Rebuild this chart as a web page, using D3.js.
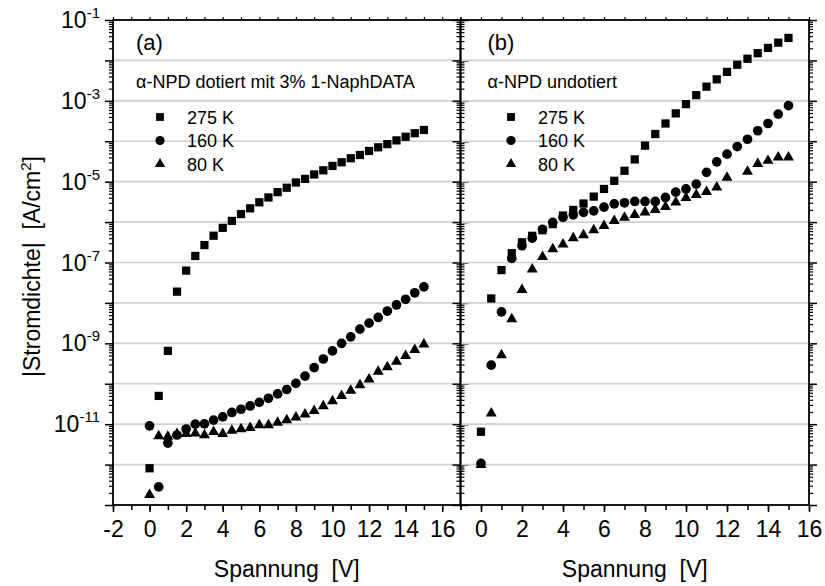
<!DOCTYPE html>
<html>
<head>
<meta charset="utf-8">
<script src="https://cdn.jsdelivr.net/npm/d3@7"></script>
<style>
  html, body { margin: 0; padding: 0; background: #fff; }
  svg { display: block; font-family: "Liberation Sans", Arial, sans-serif; }
</style>
</head>
<body>
<svg id="chart" width="825" height="586"></svg>
<script>
// Current density |J| (A/cm^2) versus voltage (V)
const voltage = [0, 0.5, 1, 1.5, 2, 2.5, 3, 3.5, 4, 4.5, 5, 5.5, 6, 6.5, 7, 7.5,
  8, 8.5, 9, 9.5, 10, 10.5, 11, 11.5, 12, 12.5, 13, 13.5, 14, 14.5, 15];

// (a) alpha-NPD doped with 3% 1-NaphDATA
const dopedJ275 = [8.1e-13, 5.0e-11, 6.5e-10, 1.9e-8, 6.3e-8, 1.45e-7, 2.7e-7, 4.6e-7,
  7.2e-7, 1.07e-6, 1.58e-6, 2.19e-6, 3.09e-6, 4.07e-6, 5.5e-6, 7.08e-6, 9.55e-6,
  1.17e-5, 1.51e-5, 1.91e-5, 2.45e-5, 3.02e-5, 3.8e-5, 4.57e-5, 5.75e-5, 7.08e-5,
  8.5e-5, 1.05e-4, 1.29e-4, 1.58e-4, 1.9e-4];
const dopedJ160 = [9.1e-12, 2.8e-13, 3.4e-12, 5.4e-12, 7.6e-12, 1.0e-11, 1.02e-11,
  1.26e-11, 1.51e-11, 1.95e-11, 2.34e-11, 2.82e-11, 3.47e-11, 4.37e-11, 5.6e-11,
  7.2e-11, 1.02e-10, 1.55e-10, 2.5e-10, 4.1e-10, 6.5e-10, 1.0e-9, 1.45e-9, 2.24e-9,
  3.16e-9, 4.37e-9, 6.3e-9, 8.9e-9, 1.23e-8, 1.78e-8, 2.5e-8];
const dopedJ80 = [1.78e-13, 5.1e-12, 4.9e-12, 5.75e-12, 5.75e-12, 5.9e-12, 5.4e-12,
  6.5e-12, 5.75e-12, 6.9e-12, 7.6e-12, 8.1e-12, 9.5e-12, 9.5e-12, 1.1e-11, 1.26e-11,
  1.48e-11, 1.74e-11, 2.14e-11, 2.82e-11, 3.7e-11, 5.0e-11, 6.8e-11, 9.3e-11,
  1.29e-10, 2.0e-10, 2.57e-10, 3.55e-10, 4.9e-10, 6.9e-10, 9.5e-10];

// (b) undoped alpha-NPD
const undopedJ275 = [6.5e-12, 1.29e-8, 6.5e-8, 1.7e-7, 3.16e-7, 4.57e-7, 6.3e-7, 8.9e-7,
  1.45e-6, 2.0e-6, 2.88e-6, 4.27e-6, 6.6e-6, 1.05e-5, 1.86e-5, 3.55e-5, 7.8e-5,
  1.51e-4, 2.75e-4, 4.9e-4, 8.3e-4, 1.38e-3, 2.24e-3, 3.4e-3, 5.2e-3, 7.8e-3,
  1.1e-2, 1.51e-2, 2.04e-2, 2.75e-2, 3.6e-2];
const undopedJ160 = [1.07e-12, 2.9e-10, 6.0e-9, 1.26e-7, 2.6e-7, 4.0e-7, 6.6e-7, 9.8e-7,
  1.32e-6, 1.51e-6, 1.74e-6, 1.9e-6, 2.34e-6, 2.82e-6, 3.0e-6, 3.24e-6, 3.24e-6,
  3.24e-6, 4.07e-6, 5.5e-6, 6.6e-6, 8.7e-6, 1.7e-5, 3.09e-5, 4.8e-5, 7.4e-5,
  1.12e-4, 1.82e-4, 2.75e-4, 4.7e-4, 7.6e-4];
const voltage80b = [0, 0.5, 1, 1.5, 2, 2.5, 3, 3.5, 4, 4.5, 5, 5.5, 6, 6.5, 7, 7.5,
  8, 8.5, 9, 9.5, 10, 10.5, 11, 11.5, 12, 13, 13.5, 14, 14.5, 15];
const undopedJ80 = [9.8e-13, 1.86e-11, 5.1e-10, 4.0e-9, 2.1e-8, 6.8e-8, 1.38e-7, 2.14e-7,
  2.82e-7, 4.0e-7, 4.8e-7, 6.3e-7, 8.1e-7, 1.07e-6, 1.29e-6, 1.51e-6, 1.74e-6,
  2.0e-6, 2.4e-6, 3.09e-6, 4.0e-6, 4.7e-6, 5.6e-6, 7.2e-6, 1.26e-5, 1.78e-5,
  2.75e-5, 3.3e-5, 4.0e-5, 4.0e-5];

const seriesLabels = ["275 K", "160 K", "80 K"];
const panelTags = ["(a)", "(b)"];
const panelTitles = ["\u03B1-NPD dotiert mit 3% 1-NaphDATA", "\u03B1-NPD undotiert"];
const xTicksA = [-2, 0, 2, 4, 6, 8, 10, 12, 14, 16];
const xTicksB = [0, 2, 4, 6, 8, 10, 12, 14, 16];
const yLabelExponents = [-1, -3, -5, -7, -9, -11];
const xTitle = "Spannung \u00A0[V]";

const svg = d3.select("#chart");
const plotTop = 20, plotBottom = 505;
const fontSize = 23;

const y = d3.scaleLog().domain([1e-13, 1e-1]).range([plotBottom, plotTop]);
const xa = d3.scaleLinear().domain([-2, 17]).range([113, 460.5]);
const xb = d3.scaleLinear().domain([-1, 16]).range([460.5, 809]);

const decades = d3.range(-12, -1).map(e => Math.pow(10, e));
const decadeAll = d3.range(-13, 0).map(e => Math.pow(10, e));
const minorY = [];
d3.range(-13, -1).forEach(e => { for (let m = 2; m <= 9; m++) minorY.push(m * Math.pow(10, e)); });

const shapes = [d3.symbolSquare, d3.symbolCircle, d3.symbolTriangle];
const sizes = [68, 74, 52];

function panel(x, data, idx, xTicks) {
  const [x0, x1] = x.range();
  const g = svg.append("g");

  // decade grid lines
  g.append("g").selectAll("line")
    .data(decades)
    .join("line")
    .attr("x1", x0).attr("x2", x1)
    .attr("y1", d => y(d)).attr("y2", d => y(d))
    .attr("stroke", "#cfcfcf").attr("stroke-width", 1.6);

  // data
  data.forEach((s, i) => {
    g.append("g").selectAll("path")
      .data(s.v.map((v, k) => [s.x[k], v]))
      .join("path")
      .attr("transform", d => `translate(${x(d[0])},${y(d[1])})`)
      .attr("d", d3.symbol(shapes[i], sizes[i]))
      .attr("fill", "#000");
  });

  // bottom axis: major and minor ticks
  const minorX = d3.range(Math.ceil(x.domain()[0]), Math.floor(x.domain()[1]) + 1);
  g.append("g").attr("transform", `translate(0,${plotBottom})`)
    .call(d3.axisBottom(x).tickValues(minorX).tickSize(5).tickFormat(""))
    .call(a => a.select(".domain").remove())
    .call(a => a.selectAll("line").attr("stroke-width", 1.5));
  const bx = g.append("g").attr("transform", `translate(0,${plotBottom})`)
    .call(d3.axisBottom(x).tickValues(xTicks).tickSize(7).tickPadding(9).tickFormat(d3.format("d")));
  bx.select(".domain").remove();
  bx.selectAll("line").attr("stroke-width", 1.5);
  bx.selectAll("text").attr("font-size", fontSize).attr("fill", "#000")
    .attr("font-family", "Liberation Sans, Arial, sans-serif")
    .text(d => d < 0 ? "-" + Math.abs(d) : d);

  // top axis ticks
  g.append("g").attr("transform", `translate(0,${plotTop})`)
    .call(d3.axisTop(x).tickValues(minorX).tickSize(3).tickFormat(""))
    .call(a => a.select(".domain").remove())
    .call(a => a.selectAll("line").attr("stroke-width", 1.2));

  // vertical axes ticks (outward on both sides)
  [[x0, d3.axisLeft], [x1, d3.axisRight]].forEach(([px, ax]) => {
    g.append("g").attr("transform", `translate(${px},0)`)
      .call(ax(y).tickValues(minorY).tickSize(4).tickFormat(""))
      .call(a => a.select(".domain").remove())
      .call(a => a.selectAll("line").attr("stroke-width", 1.2));
    g.append("g").attr("transform", `translate(${px},0)`)
      .call(ax(y).tickValues(decadeAll).tickSize(8).tickFormat(""))
      .call(a => a.select(".domain").remove())
      .call(a => a.selectAll("line").attr("stroke-width", 1.5));
  });

  // frame
  g.append("rect").attr("x", x0).attr("y", plotTop)
    .attr("width", x1 - x0).attr("height", plotBottom - plotTop)
    .attr("fill", "none").attr("stroke", "#000").attr("stroke-width", 1.8);

  // panel tag and title
  const tx = x0 + (idx === 0 ? 23 : 27);
  g.append("text").attr("x", tx).attr("y", 50)
    .attr("font-size", 22).text(panelTags[idx]);
  g.append("text").attr("x", tx).attr("y", 88)
    .attr("font-size", 18).text(panelTitles[idx]);

  // legend
  const lx = x0 + (idx === 0 ? 47 : 50.5);
  seriesLabels.forEach((lab, i) => {
    const cy = 117 + i * 23.5;
    g.append("path").attr("transform", `translate(${lx},${cy})`)
      .attr("d", d3.symbol(shapes[i], sizes[i] * 0.9)).attr("fill", "#000");
    g.append("text").attr("x", lx + 27).attr("y", cy + 6.5)
      .attr("font-size", 18).text(lab);
  });

  // x axis title
  g.append("text").attr("x", (x0 + x1) / 2).attr("y", 577)
    .attr("text-anchor", "middle").attr("font-size", fontSize).text(xTitle);
}

panel(xa, [
  { x: voltage, v: dopedJ275 },
  { x: voltage, v: dopedJ160 },
  { x: voltage, v: dopedJ80 }
], 0, xTicksA);

panel(xb, [
  { x: voltage, v: undopedJ275 },
  { x: voltage, v: undopedJ160 },
  { x: voltage80b, v: undopedJ80 }
], 1, xTicksB);

// y tick labels 10^n
const yl = svg.append("g");
yLabelExponents.forEach(e => {
  const t = yl.append("text")
    .attr("x", 100).attr("y", y(Math.pow(10, e)) + 8)
    .attr("text-anchor", "end").attr("font-size", fontSize);
  t.append("tspan").text("10");
  t.append("tspan").attr("dy", -10).attr("font-size", 15).text(e < 0 ? "-" + Math.abs(e) : e);
});

// y axis title
const yt = svg.append("text")
  .attr("transform", `translate(40,${(plotTop + plotBottom) / 2 + 4}) rotate(-90)`)
  .attr("text-anchor", "middle").attr("font-size", fontSize);
yt.append("tspan").text("|Stromdichte| \u00A0[A/cm");
yt.append("tspan").attr("dy", -9).attr("font-size", 15).text("2");
yt.append("tspan").attr("dy", 9).text("]");
</script>
</body>
</html>
